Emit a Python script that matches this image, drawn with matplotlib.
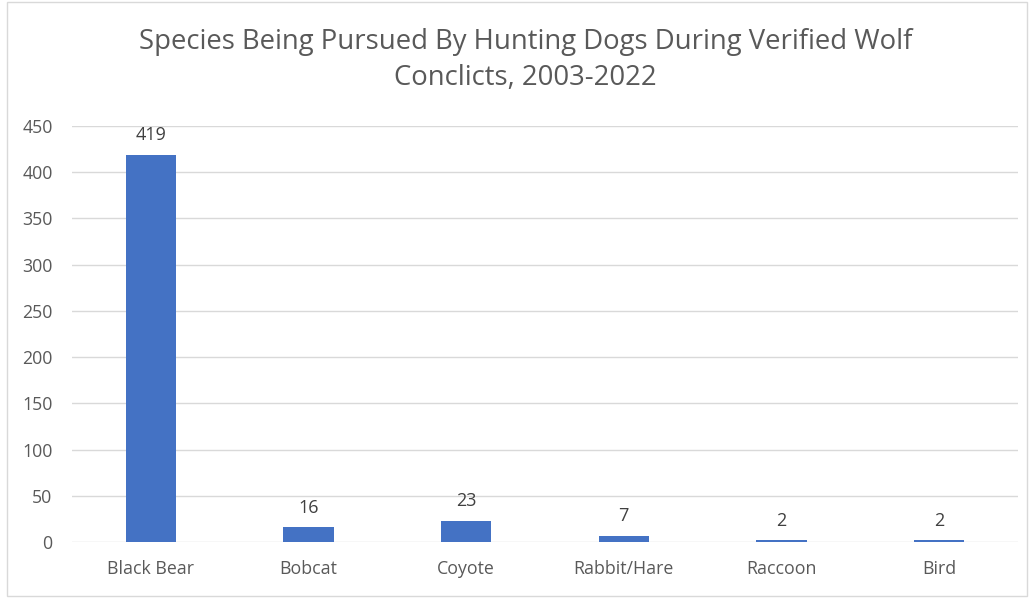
import matplotlib.pyplot as plt
from matplotlib.patches import Rectangle

# Data
species = ["Black Bear", "Bobcat", "Coyote", "Rabbit/Hare", "Raccoon", "Bird"]
counts = [419, 16, 23, 7, 2, 2]
yticks = [0, 50, 100, 150, 200, 250, 300, 350, 400, 450]

plt.rcParams['font.family'] = ['Open Sans', 'DejaVu Sans']
txt = '#595959'

fig = plt.figure(figsize=(10.3, 5.98), dpi=100)
ax = fig.add_axes([0.0699, 0.0936, 0.9184, 0.6957])

x = range(len(species))
ax.bar(x, counts, width=0.32, color='#4472C4', zorder=3)

for xi, v in zip(x, counts):
    ax.annotate(str(v), (xi, v), xytext=(0, 7.5), textcoords='offset points',
                ha='center', va='bottom', fontsize=13, color='#404040')

ax.set_xlim(-0.5, len(species) - 0.5)
ax.set_ylim(0, 450)
ax.set_yticks(yticks)
ax.set_xticks(list(x))
ax.set_xticklabels(species)
ax.yaxis.grid(True, color='#D9D9D9', linewidth=1, zorder=0)
ax.tick_params(axis='both', length=0, labelsize=12.8, labelcolor=txt)
ax.tick_params(axis='y', pad=14)
ax.tick_params(axis='x', pad=13)
for s in ax.spines.values():
    s.set_visible(False)

fig.text(0.51, 1 - 60 / 598,
         "Species Being Pursued By Hunting Dogs During Verified Wolf\nConclicts, 2003-2022",
         ha='center', va='center', fontsize=19.8, color=txt, linespacing=1.42)

# chart border
fig.patches.append(Rectangle((0.007, 0.004), 0.99, 0.993, transform=fig.transFigure,
                             fill=False, edgecolor='#D9D9D9', linewidth=1))

fig.savefig('out.png', dpi=100)
